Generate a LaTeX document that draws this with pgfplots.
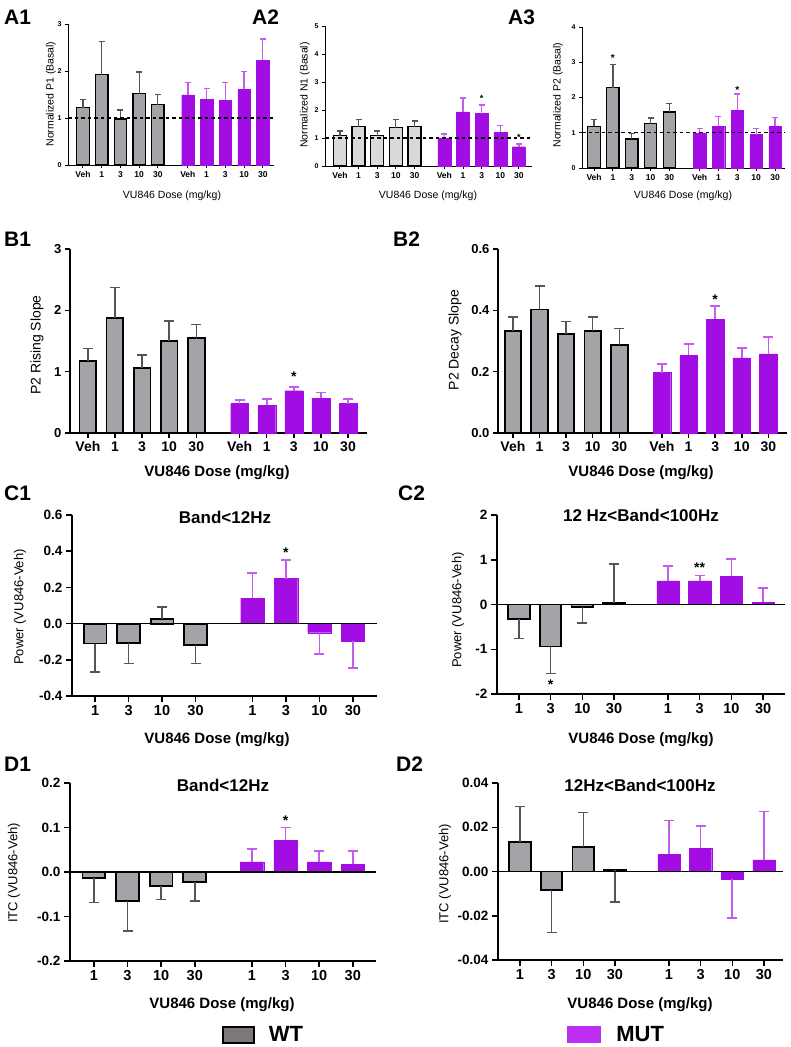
\documentclass[border=0pt]{standalone}
\usepackage{fontspec}
\setmainfont{Liberation Sans}
\usepackage{pgfplots}
\pgfplotsset{compat=1.18}
\usepackage{pgfplotstable}

\definecolor{wtfill}{RGB}{164,164,168}
\definecolor{wtlight}{RGB}{217,217,217}
\definecolor{mutfill}{RGB}{162,13,227}
\definecolor{muterr}{RGB}{196,92,240}
\definecolor{wterr}{RGB}{85,85,85}
\definecolor{wtleg}{RGB}{125,120,120}
\definecolor{mutleg}{RGB}{190,46,245}
\newcommand{\fs}[1]{\fontsize{#1}{#1}\selectfont}

% ---- data: x position, mean, signed error ----
\pgfplotstableread{
x y e
0 1.22 0.18
1 1.92 0.70
2 0.98 0.19
3 1.52 0.46
4 1.28 0.22
}\AoneWT
\pgfplotstableread{
x y e
5.6 1.49 0.27
6.6 1.40 0.23
7.6 1.38 0.38
8.6 1.61 0.38
9.6 2.23 0.45
}\AoneMUT
\pgfplotstableread{
x y e
0 1.08 0.17
1 1.40 0.27
2 1.08 0.17
3 1.37 0.30
4 1.40 0.21
}\AtwoWT
\pgfplotstableread{
x y e
5.6 0.99 0.15
6.6 1.93 0.50
7.6 1.87 0.31
8.6 1.21 0.23
9.6 0.69 0.10
}\AtwoMUT
\pgfplotstableread{
x y e
0 1.18 0.19
1 2.28 0.65
2 0.82 0.17
3 1.26 0.16
4 1.59 0.24
}\AthreeWT
\pgfplotstableread{
x y e
5.6 0.99 0.14
6.6 1.18 0.29
7.6 1.64 0.46
8.6 0.95 0.17
9.6 1.18 0.26
}\AthreeMUT
\pgfplotstableread{
x y e
0 1.17 0.21
1 1.88 0.49
2 1.06 0.21
3 1.50 0.33
4 1.55 0.22
}\BoneWT
\pgfplotstableread{
x y e
5.6 0.48 0.06
6.6 0.45 0.11
7.6 0.69 0.06
8.6 0.57 0.09
9.6 0.48 0.08
}\BoneMUT
\pgfplotstableread{
x y e
0 0.332 0.047
1 0.403 0.076
2 0.324 0.039
3 0.332 0.047
4 0.286 0.055
}\BtwoWT
\pgfplotstableread{
x y e
5.6 0.197 0.027
6.6 0.254 0.036
7.6 0.371 0.044
8.6 0.245 0.032
9.6 0.258 0.054
}\BtwoMUT
\pgfplotstableread{
x y e
0 -0.110 -0.157
1 -0.105 -0.116
2 0.024 0.068
3 -0.116 -0.105
}\ConeWT
\pgfplotstableread{
x y e
4.7 0.140 0.138
5.7 0.249 0.101
6.7 -0.050 -0.119
7.7 -0.096 -0.149
}\ConeMUT
\pgfplotstableread{
x y e
0 -0.33 -0.43
1 -0.94 -0.60
2 -0.05 -0.36
3 0.04 0.86
}\CtwoWT
\pgfplotstableread{
x y e
4.7 0.53 0.33
5.7 0.53 0.12
6.7 0.63 0.39
7.7 0.05 0.32
}\CtwoMUT
\pgfplotstableread{
x y e
0 -0.0135 -0.0545
1 -0.065 -0.067
2 -0.032 -0.030
3 -0.023 -0.042
}\DoneWT
\pgfplotstableread{
x y e
4.7 0.023 0.029
5.7 0.071 0.029
6.7 0.023 0.025
7.7 0.017 0.031
}\DoneMUT
\pgfplotstableread{
x y e
0 0.0134 0.0161
1 -0.0084 -0.0191
2 0.0110 0.0156
3 0.0007 -0.0144
}\DtwoWT
\pgfplotstableread{
x y e
4.7 0.0078 0.0152
5.7 0.0105 0.0101
6.7 -0.0035 -0.0175
7.7 0.0053 0.0218
}\DtwoMUT

\pgfplotsset{
  panel/.style={scale only axis, axis lines*=left, clip=false, tick align=outside,
    scaled y ticks=false,
    axis line style={line width=#1}, every tick/.style={black, line width=#1}},
  apanel/.style={panel=1pt, anchor=south west, ymin=0, xmin=-0.8, xmax=10.2,
    major tick length=3pt,
    xtick={0,1,2,3,4,5.6,6.6,7.6,8.6,9.6},
    xticklabels={Veh,1,3,10,30,Veh,1,3,10,30},
    xticklabel style={font=\bfseries\fs{8.5}},
    yticklabel style={font=\bfseries\fs{7}}},
  bpanel/.style={panel=1.5pt, anchor=south west, ymin=0, major tick length=5pt,
    xtick={0,1,2,3,4,5.6,6.6,7.6,8.6,9.6},
    xticklabels={Veh,1,3,10,30,Veh,1,3,10,30},
    xticklabel style={font=\bfseries\fs{14}},
    yticklabel style={font=\bfseries\fs{13}}},
  cpanel/.style={panel=1.5pt, anchor=south west, major tick length=6pt,
    xtick={0,1,2,3,4.7,5.7,6.7,7.7},
    xticklabels={1,3,10,30,1,3,10,30},
    xticklabel style={font=\bfseries\fs{14.5}},
    yticklabel style={font=\bfseries\fs{13.5}}},
  errs/.style n args={3}{error bars/y dir=plus, error bars/y explicit,
    error bars/error bar style={line width=#1, #2},
    error bars/error mark options={rotate=90, line width=#1, #2, mark size=#3}},
  wtA/.style={ybar, bar shift=0pt, bar width=0.66, fill=wtfill, draw=black, line width=1.3pt,
    errs={1.2pt}{wterr}{3pt}},
  mutA/.style={ybar, bar shift=0pt, bar width=0.66, fill=mutfill, draw=mutfill, line width=0.3pt,
    errs={1.3pt}{muterr}{3pt}},
  wtB/.style={ybar, bar shift=0pt, bar width=#1, fill=wtfill, draw=black, line width=1.8pt,
    errs={1.5pt}{wterr}{5pt}},
  mutB/.style={ybar, bar shift=0pt, bar width=#1, fill=mutfill, draw=mutfill, line width=0.3pt,
    errs={1.7pt}{muterr}{5pt}},
}

\begin{document}
\begin{tikzpicture}
\useasboundingbox (0pt,0pt) rectangle (790pt,-1047pt);

% ================= A1 =================
\begin{axis}[apanel, at={(68pt,-165pt)}, width=206pt, height=141pt, ymax=3,
  ytick={0,1,2,3}, yticklabels={0,1,2,3}]
\addplot[wtA] table[x=x, y=y, y error=e] {\AoneWT};
\addplot[mutA] table[x=x, y=y, y error=e] {\AoneMUT};
\draw[line width=1.2pt, dash pattern=on 3.5pt off 3pt] (axis cs:-0.8,1) -- (axis cs:10.2,1);
\end{axis}

% ================= A2 =================
\begin{axis}[apanel, at={(325pt,-166pt)}, width=207pt, height=140pt, ymax=5, xmax=10.3,
  ytick={0,1,2,3,4,5}, yticklabels={0,1,2,3,4,5}]
\addplot[wtA, fill=wtlight, bar width=0.7] table[x=x, y=y, y error=e] {\AtwoWT};
\addplot[mutA, bar width=0.7] table[x=x, y=y, y error=e] {\AtwoMUT};
\draw[line width=1.2pt, dash pattern=on 3.5pt off 3pt] (axis cs:-0.8,1) -- (axis cs:10.3,1);
\node[font=\bfseries\fs{9}] at (axis cs:7.6,2.42) {*};
\node[font=\bfseries\fs{9}] at (axis cs:9.6,1.02) {*};
\end{axis}

% ================= A3 =================
\begin{axis}[apanel, at={(582pt,-168pt)}, width=203pt, height=141pt, ymax=4, xmin=-0.64, xmax=10.13,
  ytick={0,1,2,3,4}, yticklabels={0,1,2,3,4}]
\addplot[wtA] table[x=x, y=y, y error=e] {\AthreeWT};
\addplot[mutA] table[x=x, y=y, y error=e] {\AthreeMUT};
\draw[line width=1.2pt, dash pattern=on 3.5pt off 3pt] (axis cs:-0.64,1) -- (axis cs:10.13,1);
\node[font=\bfseries\fs{10}] at (axis cs:1,3.12) {*};
\node[font=\bfseries\fs{10}] at (axis cs:7.6,2.2) {*};
\end{axis}

% ================= B1 =================
\begin{axis}[bpanel, at={(70pt,-433pt)}, width=297pt, height=184pt, ymax=3,
  xmin=-0.66, xmax=10.3, ytick={0,1,2,3}, yticklabels={0,1,2,3}]
\addplot[wtB=0.62] table[x=x, y=y, y error=e] {\BoneWT};
\addplot[mutB=0.66] table[x=x, y=y, y error=e] {\BoneMUT};
\node[font=\bfseries\fs{14}] at (axis cs:7.6,0.92) {*};
\end{axis}

% ================= B2 =================
\begin{axis}[bpanel, at={(498pt,-433pt)}, width=289pt, height=184pt, ymax=0.6,
  xmin=-0.56, xmax=10.3, ytick={0,0.2,0.4,0.6}, yticklabels={0.0,0.2,0.4,0.6}]
\addplot[wtB=0.62] table[x=x, y=y, y error=e] {\BtwoWT};
\addplot[mutB=0.66] table[x=x, y=y, y error=e] {\BtwoMUT};
\node[font=\bfseries\fs{14}] at (axis cs:7.6,0.435) {*};
\end{axis}

% ================= C1 =================
\begin{axis}[cpanel, at={(72pt,-696pt)}, width=305pt, height=181pt, ymin=-0.4, ymax=0.6,
  xmin=-0.69, xmax=8.42, ytick={-0.4,-0.2,0,0.2,0.4,0.6},
  yticklabels={-0.4,-0.2,0.0,0.2,0.4,0.6}]
\addplot[wtB=0.68] table[x=x, y=y, y error=e] {\ConeWT};
\addplot[mutB=0.7] table[x=x, y=y, y error=e] {\ConeMUT};
\draw[line width=1.5pt] (axis cs:-0.69,0) -- (axis cs:8.42,0);
\node[font=\bfseries\fs{14}] at (axis cs:5.7,0.39) {*};
\end{axis}

% ================= C2 =================
\begin{axis}[cpanel, at={(497pt,-694pt)}, width=288pt, height=179pt, ymin=-2, ymax=2,
  xmin=-0.69, xmax=8.39, ytick={-2,-1,0,1,2}, yticklabels={-2,-1,0,1,2}]
\addplot[wtB=0.68] table[x=x, y=y, y error=e] {\CtwoWT};
\addplot[mutB=0.7] table[x=x, y=y, y error=e] {\CtwoMUT};
\draw[line width=1.5pt] (axis cs:-0.69,0) -- (axis cs:8.39,0);
\node[font=\bfseries\fs{14}] at (axis cs:1,-1.8) {*};
\node[font=\bfseries\fs{14}] at (axis cs:5.7,0.83) {**};
\end{axis}

% ================= D1 =================
\begin{axis}[cpanel, at={(70pt,-961pt)}, width=306pt, height=178pt, ymin=-0.2, ymax=0.2,
  xmin=-0.71, xmax=8.39, ytick={-0.2,-0.1,0,0.1,0.2},
  yticklabels={-0.2,-0.1,0.0,0.1,0.2},
  legend style={at={(0.497,-0.415)}, anchor=west, draw=none, fill=none,
    font=\bfseries\fs{22}, inner sep=0pt},
  legend image code/.code={\draw[fill=wtleg, draw=black, line width=1.3pt] (0pt,-8pt) rectangle (31pt,8pt);
    \path[draw=none, fill=none] (0pt,0pt) rectangle (44pt,0.1pt);}]
\addplot[wtB=0.68] table[x=x, y=y, y error=e] {\DoneWT};
\addlegendentry{WT}
\addplot[mutB=0.7, forget plot] table[x=x, y=y, y error=e] {\DoneMUT};
\draw[line width=1.5pt] (axis cs:-0.71,0) -- (axis cs:8.39,0);
\node[font=\bfseries\fs{14}] at (axis cs:5.7,0.116) {*};
\end{axis}

% ================= D2 =================
\begin{axis}[cpanel, at={(498pt,-960pt)}, width=285pt, height=177pt, ymin=-0.04, ymax=0.04,
  xmin=-0.69, xmax=8.3, ytick={-0.04,-0.02,0,0.02,0.04},
  yticklabels={-0.04,-0.02,0.00,0.02,0.04},
  legend style={at={(0.242,-0.42)}, anchor=west, draw=none, fill=none,
    font=\bfseries\fs{22}, inner sep=0pt},
  legend image code/.code={\fill[mutleg] (0pt,-8pt) rectangle (33pt,8pt);
    \path[draw=none, fill=none] (0pt,0pt) rectangle (47pt,0.1pt);}]
\addplot[wtB=0.68, forget plot] table[x=x, y=y, y error=e] {\DtwoWT};
\addplot[mutB=0.7] table[x=x, y=y, y error=e] {\DtwoMUT};
\addlegendentry{MUT}
\draw[line width=1.5pt] (axis cs:-0.69,0) -- (axis cs:8.3,0);
\end{axis}

% ================= panel letters =================
\begin{scope}[every node/.style={anchor=west, font=\bfseries\fs{21}, inner sep=0pt}]
\node at (4pt,-17pt) {A1};
\node at (252pt,-17pt) {A2};
\node at (508pt,-17pt) {A3};
\node at (4pt,-239pt) {B1};
\node at (393pt,-239pt) {B2};
\node at (4pt,-493pt) {C1};
\node at (398pt,-493pt) {C2};
\node at (4pt,-764pt) {D1};
\node at (396pt,-764pt) {D2};
\end{scope}

% ================= axis titles =================
\begin{scope}[every node/.style={font=\fs{10.5}, inner sep=0pt}]
\node[rotate=90] at (51pt,-94pt) {Normalized P1 (Basal)};
\node[rotate=90] at (305pt,-95pt) {Normalized N1 (Basal)};
\node[rotate=90] at (558pt,-95pt) {Normalized P2 (Basal)};
\end{scope}
\begin{scope}[every node/.style={font=\fs{10.5}, inner sep=0pt}]
\node at (172pt,-196pt) {VU846 Dose (mg/kg)};
\node at (428pt,-196pt) {VU846 Dose (mg/kg)};
\node at (683pt,-196pt) {VU846 Dose (mg/kg)};
\end{scope}
\begin{scope}[every node/.style={font=\fs{14}, inner sep=0pt, rotate=90}]
\node at (37pt,-345pt) {P2 Rising Slope};
\node at (455pt,-340pt) {P2 Decay Slope};
\end{scope}
\begin{scope}[every node/.style={font=\fs{13}, inner sep=0pt, rotate=90}]
\node at (20pt,-607pt) {Power (VU846-Veh)};
\node at (458pt,-610pt) {Power (VU846-Veh)};
\node at (14pt,-873pt) {ITC (VU846-Veh)};
\node at (445pt,-874pt) {ITC (VU846-Veh)};
\end{scope}
\begin{scope}[every node/.style={font=\bfseries\fs{15}, inner sep=0pt}]
\node at (217pt,-473pt) {VU846 Dose (mg/kg)};
\node at (641pt,-473pt) {VU846 Dose (mg/kg)};
\node at (217pt,-740pt) {VU846 Dose (mg/kg)};
\node at (641pt,-740pt) {VU846 Dose (mg/kg)};
\node at (222pt,-1005pt) {VU846 Dose (mg/kg)};
\node at (640pt,-1005pt) {VU846 Dose (mg/kg)};
\end{scope}
\begin{scope}[every node/.style={font=\bfseries\fs{17}, inner sep=0pt}]
\node at (225pt,-517pt) {Band<12Hz};
\node at (641pt,-515pt) {12 Hz<Band<100Hz};
\node at (223pt,-785pt) {Band<12Hz};
\node at (640pt,-785pt) {12Hz<Band<100Hz};
\end{scope}
\end{tikzpicture}
\end{document}
